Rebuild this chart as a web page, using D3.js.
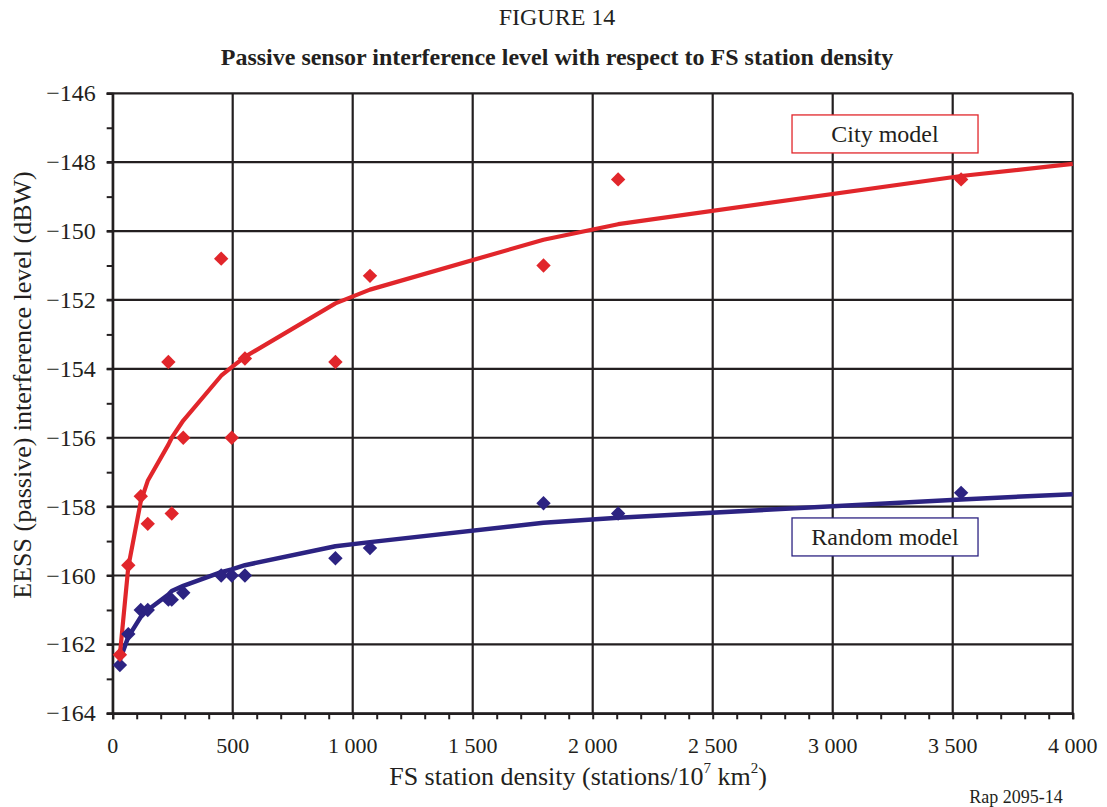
<!DOCTYPE html>
<html><head><meta charset="utf-8">
<script src="https://cdn.jsdelivr.net/npm/d3@7"></script>
<style>
body{margin:0;background:#fff}
text{font-family:"Liberation Serif","Times New Roman",serif;fill:#231f20}
</style>
</head><body>
<svg id="c" width="1107" height="807"></svg>
<script>
// ---- data ----
const density = [30,65,117,146,232,246,294,452,496,551,928,1072,1795,2106,3535];
const cityPoints = [-162.3,-159.7,-157.7,-158.5,-153.8,-158.2,-156.0,-150.8,-156.0,-153.7,-153.8,-151.3,-151.0,-148.5,-148.5];
const randomPoints = [-162.6,-161.7,-161.0,-161.0,-160.7,-160.7,-160.5,-160.0,-160.0,-160.0,-159.5,-159.2,-157.9,-158.2,-157.6];
const trendDensity = [30,65,117,146,232,246,294,452,496,551,928,1072,1795,2106,3535,4000];
const cityTrend = [-162.3,-159.75,-157.85,-157.25,-156.2,-156.0,-155.5,-154.2,-153.95,-153.65,-152.1,-151.7,-150.25,-149.8,-148.4,-148.05];
const randomTrend = [-162.45,-161.78,-161.2,-161.0,-160.55,-160.45,-160.3,-159.9,-159.82,-159.7,-159.15,-159.03,-158.47,-158.32,-157.79,-157.64];
const seriesNames = ["City model","Random model"];
const xTickValues = [0,500,1000,1500,2000,2500,3000,3500,4000];
const xTickLabels = ["0","500","1 000","1 500","2 000","2 500","3 000","3 500","4 000"];
const yTickValues = [-146,-148,-150,-152,-154,-156,-158,-160,-162,-164];
const yTickLabels = ["\u2212146","\u2212148","\u2212150","\u2212152","\u2212154","\u2212156","\u2212158","\u2212160","\u2212162","\u2212164"];
const figureLabel = "FIGURE 14";
const titleText = "Passive sensor interference level with respect to FS station density";
const yLabel = "EESS (passive) interference level (dBW)";
const refText = "Rap 2095-14";

// ---- layout ----
const L = 112.7, R = 1072.7, T = 93.3, B = 713.3;
const RED = "#e1262b", BLUE = "#2c2382", INK = "#231f20";
const svg = d3.select("#c");
const x = d3.scaleLinear().domain([0,4000]).range([L,R]);
const y = d3.scaleLinear().domain([-164,-146]).range([B,T]);

// grid
const g = svg.append("g");
g.selectAll(".vg").data(xTickValues).join("line")
  .attr("x1",d=>x(d)).attr("x2",d=>x(d)).attr("y1",T).attr("y2",B)
  .attr("stroke",INK).attr("stroke-width",2.2);
g.selectAll(".hg").data(yTickValues).join("line")
  .attr("x1",L-6).attr("x2",R).attr("y1",d=>y(d)).attr("y2",d=>y(d))
  .attr("stroke",INK).attr("stroke-width",2.2);

// x axis with minor ticks
const xAxis = d3.axisBottom(x).tickValues(d3.range(0,4001,100)).tickSize(6).tickFormat("");
const xa = svg.append("g").attr("transform",`translate(0,${B})`).call(xAxis);
xa.select(".domain").attr("stroke",INK).attr("stroke-width",2.2);
xa.selectAll(".tick line").attr("stroke",INK).attr("stroke-width",2);
svg.append("g").selectAll("text").data(xTickValues).join("text")
  .attr("x",d=>x(d)).attr("y",B+40)
  .attr("text-anchor","middle").attr("font-size",22)
  .text((d,i)=>xTickLabels[i]);

// y axis with minor ticks
const yAxis = d3.axisLeft(y).tickValues(d3.range(-164,-145,1)).tickSize(6).tickFormat("");
const ya = svg.append("g").attr("transform",`translate(${L},0)`).call(yAxis);
ya.select(".domain").attr("stroke",INK).attr("stroke-width",2.2);
ya.selectAll(".tick line").attr("stroke",INK).attr("stroke-width",2);
svg.append("g").selectAll("text").data(yTickValues).join("text")
  .attr("x",L-17).attr("y",d=>y(d)+8)
  .attr("text-anchor","end").attr("font-size",24)
  .text((d,i)=>yTickLabels[i]);

// lines
const line = d3.line().x(d=>x(d[0])).y(d=>y(d[1]));
svg.append("path").datum(trendDensity.map((d,i)=>[d,randomTrend[i]]))
  .attr("d",line).attr("fill","none").attr("stroke",BLUE).attr("stroke-width",4.5).attr("stroke-linejoin","round");
svg.append("path").datum(trendDensity.map((d,i)=>[d,cityTrend[i]]))
  .attr("d",line).attr("fill","none").attr("stroke",RED).attr("stroke-width",4.2).attr("stroke-linejoin","round");

// diamonds
const diamond = {draw(ctx,size){const r=Math.sqrt(size/2);ctx.moveTo(0,-r);ctx.lineTo(r,0);ctx.lineTo(0,r);ctx.lineTo(-r,0);ctx.closePath();}};
const sym = d3.symbol().type(diamond).size(2*7.2*7.2);
svg.append("g").selectAll("path").data(density).join("path")
  .attr("transform",(d,i)=>`translate(${x(d)},${y(randomPoints[i])})`).attr("d",sym).attr("fill",BLUE);
svg.append("g").selectAll("path").data(density).join("path")
  .attr("transform",(d,i)=>`translate(${x(d)},${y(cityPoints[i])})`).attr("d",sym).attr("fill",RED);

// legend boxes
const legends = [{name:seriesNames[0],color:RED,x:3218,y:-147.18},{name:seriesNames[1],color:BLUE,x:3218,y:-158.88}];
legends.forEach(l=>{
  const cx = x(l.x), cy = y(l.y);
  svg.append("rect").attr("x",cx-93).attr("y",cy-19).attr("width",186).attr("height",38)
    .attr("fill","#fff").attr("stroke",l.color).attr("stroke-width",1.3);
  svg.append("text").attr("x",cx).attr("y",cy+8)
    .attr("text-anchor","middle").attr("font-size",24).text(l.name);
});

// titles
svg.append("text").attr("x",557).attr("y",25).attr("text-anchor","middle").attr("font-size",24).text(figureLabel);
svg.append("text").attr("x",557).attr("y",65).attr("text-anchor","middle").attr("font-size",24).attr("font-weight","bold").text(titleText);

// axis titles
svg.append("text").attr("transform","translate(31,385) rotate(-90)").attr("text-anchor","middle").attr("font-size",26).text(yLabel);
const xl = svg.append("text").attr("x",578).attr("y",785).attr("text-anchor","middle").attr("font-size",26);
xl.append("tspan").text("FS station density (stations/10");
xl.append("tspan").attr("font-size",15).attr("dy",-12).text("7");
xl.append("tspan").attr("dy",12).text(" km");
xl.append("tspan").attr("font-size",15).attr("dy",-12).text("2");
xl.append("tspan").attr("dy",12).text(")");
svg.append("text").attr("x",1016).attr("y",803).attr("text-anchor","middle").attr("font-size",18).text(refText);
</script>
</body></html>
